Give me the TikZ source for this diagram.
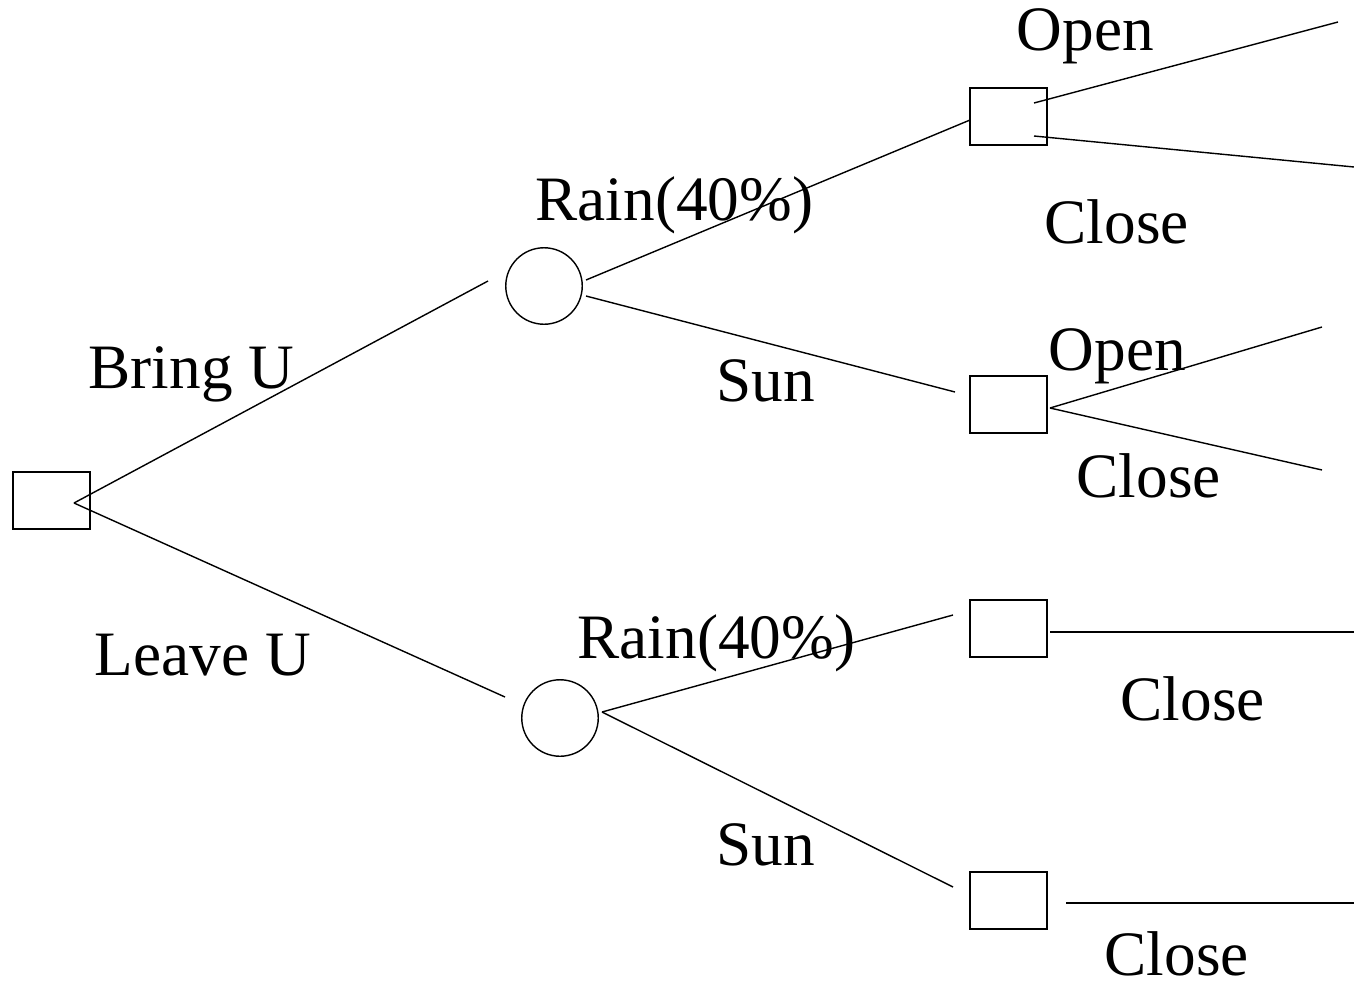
\documentclass[tikz,border=0pt]{standalone}
\usepackage{fontspec}
\setmainfont{Liberation Serif}
\begin{document}
\begin{tikzpicture}[x=0.02cm,y=-0.02cm,
  line width=0.8pt,
  decision/.style={draw,rectangle,inner sep=0pt,minimum width=1.54cm,minimum height=1.14cm},
  chance/.style={draw,circle,inner sep=0pt,minimum size=1.53cm},
  lbl/.style={anchor=base west,inner sep=0pt,font=\fontsize{36}{40}\selectfont},
  branch/.style={line width=0.8pt}]
\useasboundingbox (0,0) rectangle (1354,984);

% decision and chance nodes
\node[decision] (root) at (51.5,500.5) {};
\node[chance]   (c1)   at (544,286) {};
\node[chance]   (c2)   at (560,718) {};
\node[decision] (b1)   at (1008.5,116.5) {};
\node[decision] (b2)   at (1008.5,404.5) {};
\node[decision] (b3)   at (1008.5,628.5) {};
\node[decision] (b4)   at (1008.5,900.5) {};

% branch end points
\coordinate (r-out)  at (74,503);
\coordinate (c1-in)  at (488,281);
\coordinate (c2-in)  at (505,697);
\coordinate (c1-up)  at (586,280);
\coordinate (c1-dn)  at (586,296);
\coordinate (b1-in)  at (970,120);
\coordinate (b2-in)  at (955,392);
\coordinate (b1-up)  at (1034,103);
\coordinate (b1-dn)  at (1034,136);
\coordinate (e1)     at (1338,22);
\coordinate (e2)     at (1354,167);
\coordinate (b2-out) at (1050,408);
\coordinate (e3)     at (1322,327);
\coordinate (e4)     at (1322,470);
\coordinate (c2-out) at (602,712);
\coordinate (b3-in)  at (953,615);
\coordinate (b4-in)  at (953,887);
\coordinate (b3-out) at (1050,632);
\coordinate (e5)     at (1354,632);
\coordinate (b4-out) at (1066,903);
\coordinate (e6)     at (1354,903);

% branches
\draw[branch] (r-out) -- (c1-in);
\draw[branch] (r-out) -- (c2-in);
\draw[branch] (c1-up) -- (b1-in);
\draw[branch] (c1-dn) -- (b2-in);
\draw[branch] (b1-up) -- (e1);
\draw[branch] (b1-dn) -- (e2);
\draw[branch] (b2-out) -- (e3);
\draw[branch] (b2-out) -- (e4);
\draw[branch] (c2-out) -- (b3-in);
\draw[branch] (c2-out) -- (b4-in);
\draw[branch] (b3-out) -- (e5);
\draw[branch] (b4-out) -- (e6);

% labels
\node[lbl] (t-bring)  at (88,388)   {Bring U};
\node[lbl] (t-leave)  at (94,675)   {Leave U};
\node[lbl] (t-rain1)  at (535,220)  {Rain(40\%)};
\node[lbl] (t-sun1)   at (716,401)  {Sun};
\node[lbl] (t-rain2)  at (577,658)  {Rain(40\%)};
\node[lbl] (t-sun2)   at (716,865)  {Sun};
\node[lbl] (t-open1)  at (1016,50)  {Open};
\node[lbl] (t-close1) at (1044,243) {Close};
\node[lbl] (t-open2)  at (1048,370) {Open};
\node[lbl] (t-close2) at (1076,497) {Close};
\node[lbl] (t-close3) at (1120,720) {Close};
\node[lbl] (t-close4) at (1104,975) {Close};
\end{tikzpicture}
\end{document}
